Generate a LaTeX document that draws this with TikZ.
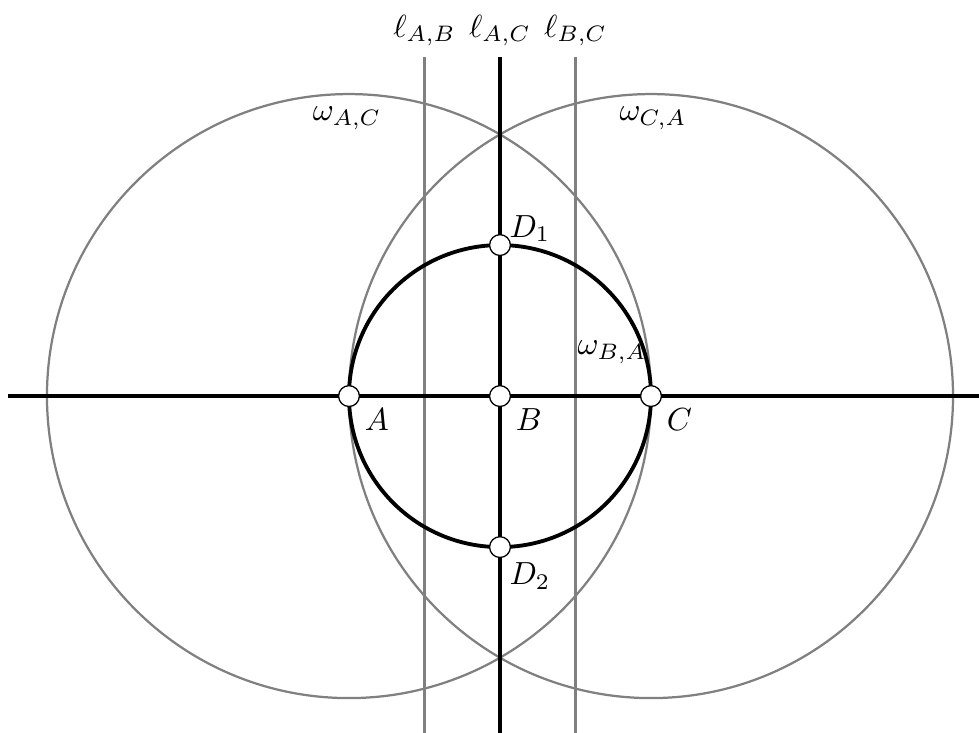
\documentclass[tikz,border=0pt]{standalone}
\usepackage{amsmath,amssymb}
\usetikzlibrary{positioning}
\tikzset{
  guide/.style = {line width=0.7pt, gray},
  axisline/.style = {very thick},
  odot/.style = {circle, draw, fill=white, inner sep=2.3pt},
  lbl/.style = {font=\normalsize},
}
\begin{document}
\begin{tikzpicture}[x=1.66cm,y=1.66cm]
  \useasboundingbox (-3.311,-2.225) rectangle (3.172,2.623);
  \coordinate (A) at (-1,0);
  \coordinate (B) at (0,0);
  \coordinate (C) at (1,0);
  % big circles
  \draw[guide] (A) circle (2);
  \draw[guide] (C) circle (2);
  % perpendicular bisectors
  \foreach \x in {-0.5, 0.5}
     {\draw[guide] (\x,2.245) -- (\x,-2.3);}
  \draw[axisline] (-3.258,0) -- (3.3,0);
  \draw[axisline] (0,2.245) -- (0,-2.3);
  \draw[axisline] (B) circle (1);
  % labels of the lines
  \node[lbl] (lAB) at (-0.5,2.42) {$\ell_{A,B}$};
  \node[lbl] (lAC) at (0,2.42) {$\ell_{A,C}$};
  \node[lbl] (lBC) at (0.5,2.42) {$\ell_{B,C}$};
  \node[lbl] (wAC) at (-1.013,1.84) {$\omega_{A,C}$};
  \node[lbl] (wCA) at (1.013,1.84) {$\omega_{C,A}$};
  \node[lbl] (wBA) at (0.742,0.29) {$\omega_{B,A}$};
  % points
  \node[odot] (pA) at (A) {};
  \node[odot] (pB) at (B) {};
  \node[odot] (pC) at (C) {};
  \node[odot] (D1) at (0,1) {};
  \node[odot] (D2) at (0,-1) {};
  \node[lbl,below right=-2pt and -1pt of pA] {$A$};
  \node[lbl,below right=-2pt and -1pt of pB] {$B$};
  \node[lbl,below right=-2pt and -1pt of pC] {$C$};
  \node[lbl,above right=-5pt and -3pt of D1] {$D_1$};
  \node[lbl,below right=-1pt and -3pt of D2] {$D_2$};
\end{tikzpicture}
\end{document}
